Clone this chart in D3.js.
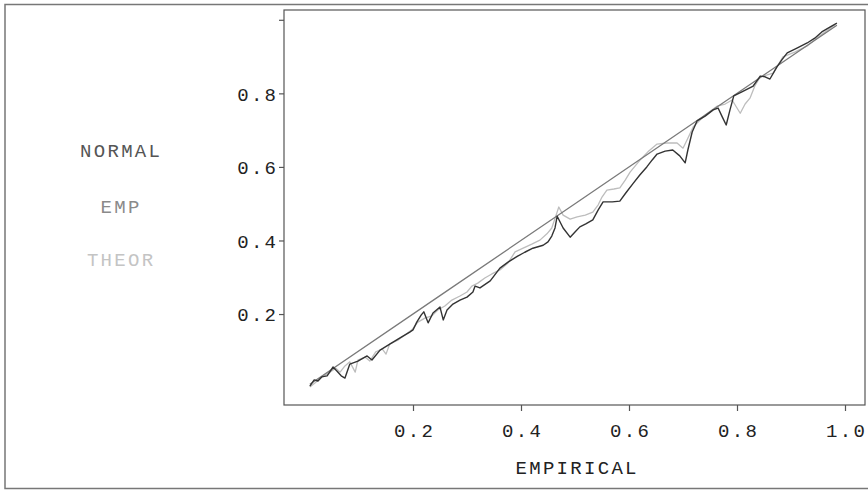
<!DOCTYPE html>
<html><head><meta charset="utf-8">
<script src="https://cdn.jsdelivr.net/npm/d3@7"></script>
<style>
html,body{margin:0;padding:0;background:#fff;}
svg{display:block;}
text{font-family:"Liberation Mono","DejaVu Sans Mono",monospace;}
</style></head>
<body>
<svg id="chart" width="868" height="493"></svg>
<script>
// ---- data ----
const xTicks = [0.2, 0.4, 0.6, 0.8, 1.0];
const xTickLabels = ["0.2", "0.4", "0.6", "0.8", "1.0"];
const yTicks = [0.2, 0.4, 0.6, 0.8, 1.0];
const yTickLabels = ["0.2", "0.4", "0.6", "0.8", ""];
const legendLabels = ["NORMAL", "EMP", "THEOR"];
const xTitle = "EMPIRICAL";

const empX = [0.009, 0.25, 0.5, 0.75, 0.985];
const empY = [0.009, 0.25, 0.5, 0.75, 0.985];

const normalX = [0.009,0.017,0.024,0.031,0.041,0.052,0.059,0.067,0.074,0.083,0.098,0.115,0.124,0.139,0.157,0.176,0.194,0.200,0.207,0.215,0.220,0.228,0.237,0.250,0.256,0.263,0.274,0.287,0.300,0.311,0.315,0.324,0.343,0.361,0.376,0.393,0.407,0.422,0.441,0.450,0.457,0.463,0.467,0.478,0.491,0.500,0.509,0.520,0.533,0.543,0.552,0.569,0.583,0.594,0.607,0.620,0.633,0.643,0.652,0.667,0.681,0.694,0.704,0.709,0.717,0.726,0.741,0.756,0.765,0.772,0.780,0.787,0.794,0.809,0.830,0.843,0.852,0.861,0.874,0.883,0.893,0.911,0.930,0.944,0.957,0.972,0.985];
const normalY = [0.004,0.021,0.018,0.029,0.032,0.056,0.045,0.032,0.026,0.064,0.072,0.086,0.075,0.102,0.118,0.135,0.151,0.157,0.178,0.197,0.206,0.176,0.203,0.219,0.184,0.211,0.227,0.238,0.246,0.260,0.276,0.271,0.290,0.325,0.341,0.357,0.368,0.379,0.387,0.396,0.412,0.434,0.466,0.434,0.409,0.423,0.437,0.445,0.456,0.483,0.505,0.505,0.507,0.529,0.554,0.578,0.600,0.619,0.635,0.643,0.646,0.630,0.611,0.646,0.695,0.725,0.738,0.755,0.760,0.738,0.714,0.755,0.793,0.804,0.820,0.847,0.845,0.839,0.872,0.891,0.910,0.923,0.937,0.950,0.967,0.980,0.991];

const theorX = [0.009,0.019,0.028,0.037,0.046,0.057,0.065,0.074,0.083,0.093,0.098,0.111,0.120,0.131,0.143,0.150,0.157,0.172,0.185,0.198,0.209,0.222,0.235,0.246,0.259,0.272,0.287,0.300,0.309,0.320,0.333,0.346,0.361,0.376,0.389,0.404,0.420,0.435,0.448,0.457,0.465,0.470,0.478,0.491,0.504,0.519,0.533,0.543,0.550,0.559,0.572,0.583,0.593,0.602,0.620,0.635,0.652,0.670,0.689,0.700,0.709,0.719,0.741,0.763,0.778,0.791,0.798,0.806,0.815,0.824,0.833,0.843,0.856,0.867,0.876,0.885,0.907,0.930,0.954,0.981];
const theorY = [0.002,0.013,0.026,0.034,0.042,0.053,0.042,0.059,0.070,0.042,0.075,0.083,0.072,0.097,0.105,0.091,0.119,0.129,0.143,0.157,0.178,0.189,0.195,0.211,0.222,0.238,0.249,0.260,0.276,0.284,0.298,0.309,0.320,0.339,0.369,0.379,0.390,0.401,0.418,0.434,0.469,0.491,0.469,0.458,0.464,0.469,0.477,0.497,0.518,0.537,0.540,0.543,0.564,0.586,0.618,0.641,0.662,0.665,0.665,0.651,0.678,0.709,0.741,0.765,0.771,0.782,0.765,0.746,0.771,0.787,0.820,0.845,0.850,0.855,0.877,0.899,0.912,0.929,0.957,0.986];

// ---- drawing ----
const svg = d3.select("#chart");
const frame = {left: 284, right: 865, top: 10, bottom: 405};
const x = d3.scaleLinear().domain([0, 1]).range([305, 845]);
const y = d3.scaleLinear().domain([0, 1]).range([387.6, 19.8]);

// outer border
svg.append("rect").attr("x", 5).attr("y", 4.5).attr("width", 870).attr("height", 484)
  .attr("fill", "none").attr("stroke", "#777").attr("stroke-width", 1.5);

// plot frame
svg.append("rect").attr("x", frame.left).attr("y", frame.top)
  .attr("width", frame.right - frame.left).attr("height", frame.bottom - frame.top)
  .attr("fill", "none").attr("stroke", "#555").attr("stroke-width", 1.2);

const fontSize = 19, ls = 2.3;

// x axis
const xAxis = d3.axisBottom(x).tickValues(xTicks).tickSize(6).tickPadding(7)
  .tickFormat((d, i) => xTickLabels[i]);
const gx = svg.append("g").attr("transform", `translate(0,${frame.bottom})`).call(xAxis);
gx.select(".domain").remove();
gx.selectAll(".tick line").attr("stroke", "#555").attr("stroke-width", 1.2);
gx.selectAll(".tick text").attr("font-size", fontSize).attr("fill", "#222")
  .attr("font-family", "Liberation Mono").style("letter-spacing", ls + "px")
  .attr("dx", ls / 2).attr("dy", "0.72em").attr("y", 18);

// y axis
const yAxis = d3.axisLeft(y).tickValues(yTicks).tickSize(5).tickPadding(3)
  .tickFormat((d, i) => yTickLabels[i]);
const gy = svg.append("g").attr("transform", `translate(${frame.left},0)`).call(yAxis);
gy.select(".domain").remove();
gy.selectAll(".tick line").attr("stroke", "#555").attr("stroke-width", 1.2);
gy.selectAll(".tick text").attr("font-size", fontSize).attr("fill", "#222")
  .attr("font-family", "Liberation Mono").style("letter-spacing", ls + "px")
  .attr("dx", ls).attr("dy", "0.35em");

// x title
svg.append("text").attr("x", 576 + ls / 2).attr("y", 474).attr("text-anchor", "middle")
  .attr("font-size", fontSize).style("letter-spacing", ls + "px").attr("fill", "#222")
  .text(xTitle);

// legend
const legendColors = ["#555", "#8a8a8a", "#c4c4c4"];
const legendY = [157, 213, 266];
svg.selectAll(".leg").data(legendLabels).enter().append("text")
  .attr("x", 120 + ls / 2).attr("y", (d, i) => legendY[i]).attr("text-anchor", "middle")
  .attr("font-size", fontSize).style("letter-spacing", ls + "px")
  .attr("fill", (d, i) => legendColors[i]).text(d => d);

// lines
const line = d3.line().x(d => x(d[0])).y(d => y(d[1]));
const series = [
  {xs: theorX, ys: theorY, color: "#bdbdbd", w: 1.3},
  {xs: empX, ys: empY, color: "#7a7a7a", w: 1.3},
  {xs: normalX, ys: normalY, color: "#333", w: 1.4}
];
series.forEach(s => {
  const pts = s.xs.map((v, i) => [v, s.ys[i]]);
  svg.append("path").datum(pts).attr("d", line).attr("fill", "none")
    .attr("stroke", s.color).attr("stroke-width", s.w).attr("stroke-linejoin", "round");
});
</script>
</body></html>
